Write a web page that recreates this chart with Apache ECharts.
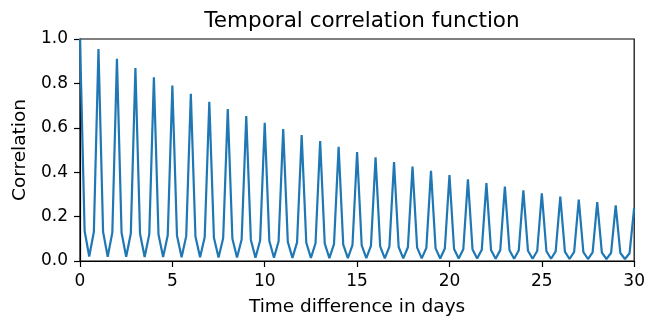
<!DOCTYPE html>
<html>
<head>
<meta charset="utf-8">
<script src="https://cdn.jsdelivr.net/npm/echarts@6/dist/echarts.min.js"></script>
<style>
  html, body { margin: 0; padding: 0; background: #fff; }
  #chart { width: 648px; height: 322px; }
</style>
</head>
<body>
<div id="chart"></div>
<script>
  // values read off the picture, sampled every quarter day
  // peak at each whole day (0..30)
  var peaks = [1.0, 0.955, 0.911, 0.869, 0.827, 0.790, 0.753, 0.717, 0.684, 0.653,
    0.622, 0.594, 0.567, 0.540, 0.514, 0.491, 0.467, 0.446, 0.425, 0.406,
    0.387, 0.368, 0.351, 0.335, 0.318, 0.305, 0.290, 0.277, 0.265, 0.251, 0.240];
  // day + 0.25
  var quarter = [0.135, 0.131, 0.127, 0.123, 0.119, 0.115, 0.110, 0.105, 0.100, 0.095,
    0.090, 0.086, 0.082, 0.078, 0.074, 0.070, 0.066, 0.063, 0.060, 0.057,
    0.054, 0.052, 0.050, 0.048, 0.046, 0.044, 0.042, 0.040, 0.038, 0.036];
  // day + 0.5
  var half = [0.020, 0.019, 0.019, 0.018, 0.018, 0.017, 0.017, 0.016, 0.016, 0.015,
    0.015, 0.014, 0.014, 0.013, 0.013, 0.013, 0.012, 0.012, 0.012, 0.011,
    0.011, 0.011, 0.010, 0.010, 0.010, 0.010, 0.009, 0.009, 0.009, 0.009];
  // day + 0.75
  var threeQuarter = [0.132, 0.128, 0.124, 0.120, 0.116, 0.112, 0.107, 0.102, 0.097, 0.092,
    0.088, 0.084, 0.080, 0.076, 0.072, 0.068, 0.065, 0.062, 0.059, 0.056,
    0.053, 0.051, 0.049, 0.047, 0.045, 0.043, 0.041, 0.039, 0.037, 0.035];

  var data = [];
  for (var d = 0; d < quarter.length; d++) {
    data.push([d, peaks[d]]);
    data.push([d + 0.25, quarter[d]]);
    data.push([d + 0.5, half[d]]);
    data.push([d + 0.75, threeQuarter[d]]);
  }
  data.push([30, peaks[30]]);

  var font = 'DejaVu Sans';
  var myChart = echarts.init(document.getElementById('chart'), null, {renderer: 'canvas'});
  myChart.setOption({
    animation: false,
    title: {
      text: 'Temporal correlation function',
      left: 357,
      textAlign: 'center',
      top: 5,
      textStyle: {fontFamily: font, fontSize: 21.5, fontWeight: 'normal', color: '#000'}
    },
    grid: {
      left: 80, right: 13, top: 39, bottom: 59,
      show: true, borderColor: '#000', borderWidth: 1.2
    },
    xAxis: {
      type: 'value',
      min: 0, max: 30, interval: 5,
      name: 'Time difference in days',
      nameLocation: 'middle',
      nameGap: 37,
      nameTextStyle: {fontFamily: font, fontSize: 18.5, color: '#000'},
      axisLine: {show: true, onZero: false, lineStyle: {color: '#000', width: 1.2}},
      axisTick: {show: true, length: 6, lineStyle: {color: '#000', width: 1.2}},
      axisLabel: {fontFamily: font, fontSize: 17, color: '#000', margin: 12},
      splitLine: {show: false}
    },
    yAxis: {
      type: 'value',
      min: 0, max: 1, interval: 0.2,
      name: 'Correlation',
      nameLocation: 'middle',
      nameGap: 49,
      nameTextStyle: {fontFamily: font, fontSize: 18.5, color: '#000'},
      axisLine: {show: true, lineStyle: {color: '#000', width: 1.2}},
      axisTick: {show: true, length: 6, lineStyle: {color: '#000', width: 1.2}},
      axisLabel: {
        fontFamily: font, fontSize: 17, color: '#000', margin: 12,
        formatter: function (v) { return v.toFixed(1); }
      },
      splitLine: {show: false}
    },
    series: [{
      type: 'line',
      data: data,
      symbol: 'none',
      clip: true,
      lineStyle: {color: '#1f77b4', width: 2.2}
    }]
  });
</script>
</body>
</html>
